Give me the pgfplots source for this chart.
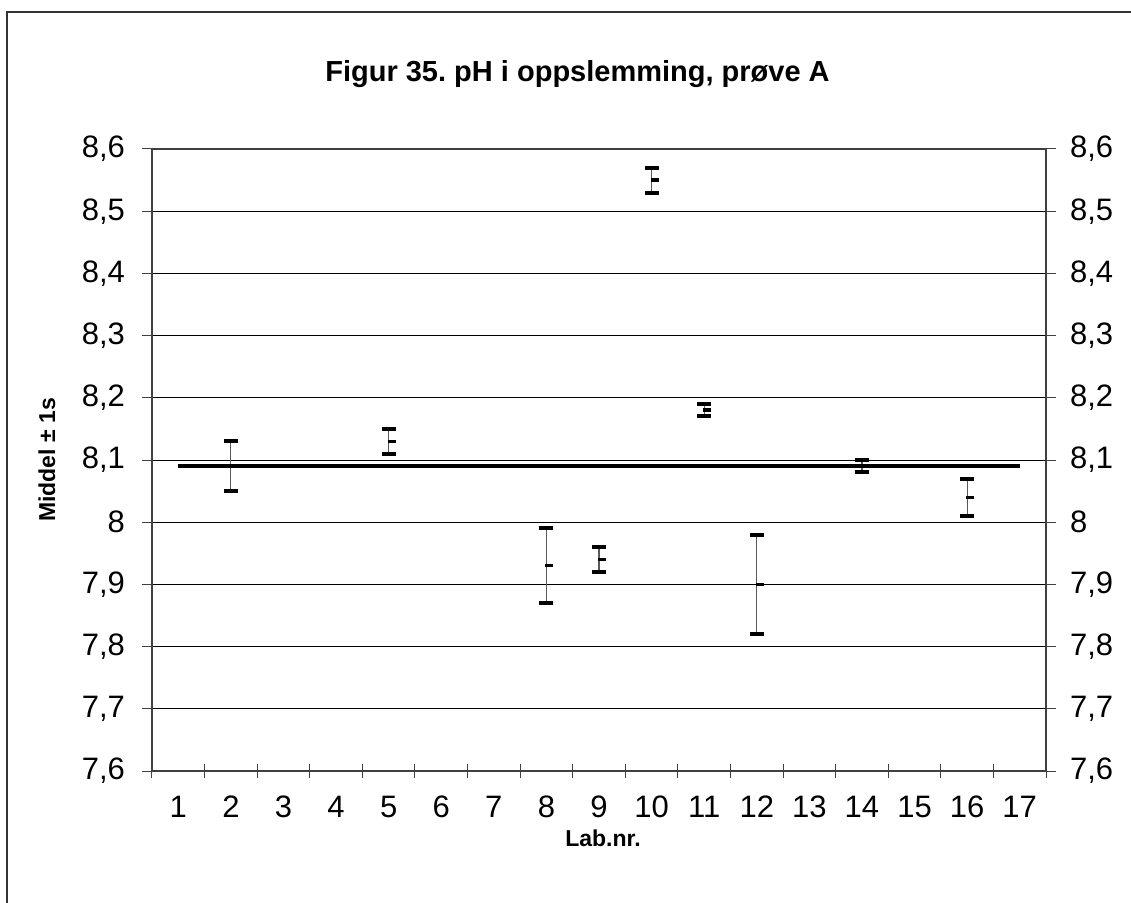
\documentclass[border=0pt]{standalone}
\usepackage{pgfplots}
\pgfplotsset{compat=1.18}
\usepackage{fontspec}
\setmainfont{Liberation Sans}
\frenchspacing
\pgfdeclareplotmark{rdash}{\pgfpathmoveto{\pgfqpoint{-0.5pt}{0pt}}\pgfpathlineto{\pgfqpoint{3.5pt}{0pt}}\pgfusepathqstroke}

\begin{document}
\begin{tikzpicture}
\useasboundingbox (0,0) rectangle (565.5pt,451pt);
\fill[white] (0,0) rectangle (565.5pt,451pt);
\draw[line width=1pt, black!80] (3.5pt,-20pt) -- (3.5pt,445pt) -- (600pt,445pt);
\begin{axis}[at={(76pt,65.5pt)}, anchor=south west, scale only axis,
  width=447pt, height=311pt,
  xmin=0.5, xmax=17.5, ymin=7.6, ymax=8.6,
  xtick={1,...,17}, minor xtick={0.5,1.5,...,17.5},
  ytick={7.6,7.7,7.8,7.9,8.0,8.1,8.2,8.3,8.4,8.5,8.6},
  ymajorgrids, grid style={black, line width=0.5pt},
  axis line style={black!75, line width=0.75pt},
  tick style={black!75, line width=0.5pt},
  tick align=outside, major tick length=5pt, minor tick length=7pt,
  ytick pos=left, xtick pos=bottom,
  major x tick style={draw=none},
  minor x tick style={yshift=3.5pt},
  tick label style={font=\fontsize{15.5}{18}\selectfont},
  xticklabel style={yshift=-4pt},
  yticklabel style={xshift=-5pt},
  /pgf/number format/use comma, /pgf/number format/fixed,
  /pgf/number format/assume math mode=true,
  clip=false,
]
\addplot[black, line width=2pt] coordinates {(1,8.09) (17,8.09)};
\addplot[only marks, mark=rdash, mark options={line width=1.75pt, black},
  error bars/.cd, y dir=both, y explicit,
  error bar style={black!65, line width=0.6pt},
  error mark=|, error mark options={line width=2pt, mark size=3.5pt, black}]
  coordinates {
  (2,8.09) +- (0,0.04)
  (5,8.13) +- (0,0.02)
  (8,7.93) +- (0,0.06)
  (9,7.94) +- (0,0.02)
  (10,8.55) +- (0,0.02)
  (11,8.18) +- (0,0.01)
  (12,7.90) +- (0,0.08)
  (14,8.09) +- (0,0.01)
  (16,8.04) +- (0,0.03)
  };
\end{axis}
\begin{axis}[at={(76pt,65.5pt)}, anchor=south west, scale only axis,
  width=447pt, height=311pt,
  xmin=0.5, xmax=17.5, ymin=7.6, ymax=8.6,
  axis y line*=right, axis x line=none,
  ytick={7.6,7.7,7.8,7.9,8.0,8.1,8.2,8.3,8.4,8.5,8.6},
  axis line style={black!75, line width=0.75pt},
  tick style={black!75, line width=0.5pt},
  tick align=outside, major tick length=5pt,
  tick label style={font=\fontsize{15.5}{18}\selectfont},
  yticklabel style={xshift=3.5pt},
  /pgf/number format/use comma, /pgf/number format/fixed,
  /pgf/number format/assume math mode=true,
]
\end{axis}
\node[font=\bfseries\fontsize{14.5}{17}\selectfont, anchor=base] at (288.75pt,410pt) {Figur 35. pH i oppslemming, prøve A};
\node[font=\bfseries\fontsize{11.5}{14}\selectfont, anchor=base] at (301.5pt,28pt) {Lab.nr.};
\node[font=\bfseries\fontsize{11.5}{14}\selectfont, rotate=90] at (23.5pt,221pt) {Middel ± 1s};
\end{tikzpicture}
\end{document}
